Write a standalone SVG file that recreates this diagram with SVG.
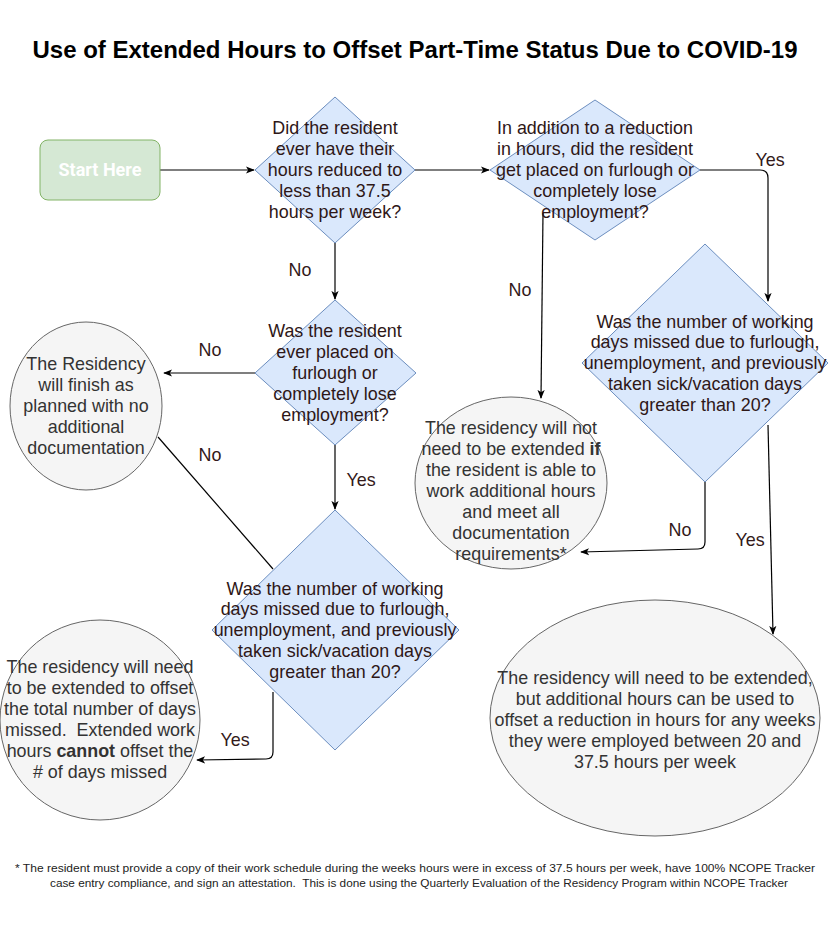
<svg xmlns="http://www.w3.org/2000/svg" width="831" height="931" viewBox="0 0 831 931">
<defs>
<style>
.t{font-family:"Liberation Sans",Arial,sans-serif;font-size:17.9px;text-anchor:middle;}
.dq{fill:#2e1717;}
.cc{fill:#333333;}
.lbl{font-family:"Liberation Sans",Arial,sans-serif;font-size:17.9px;fill:#331a1a;text-anchor:middle;}
.dia{fill:#dae8fc;stroke:#6c8ebf;stroke-width:1;}
.cir{fill:#f5f5f5;stroke:#666666;stroke-width:1;}
.ln{fill:none;stroke:#000;stroke-width:1.2;}
.b{font-weight:bold;}
</style>
<marker id="ah" viewBox="0 0 10 10" refX="9" refY="5" markerWidth="9" markerHeight="9" orient="auto" markerUnits="userSpaceOnUse">
<path d="M0,1 L10,5 L0,9 L2.5,5 Z" fill="#000"/>
</marker>
</defs>
<rect width="831" height="931" fill="#fff"/>
<text x="415" y="58" font-family="'Liberation Sans',Arial,sans-serif" font-size="24" font-weight="bold" text-anchor="middle" fill="#000">Use of Extended Hours to Offset Part-Time Status Due to COVID-19</text>

<g id="connectors">
<path class="ln" d="M160,170 L254,170" marker-end="url(#ah)"/>
<path class="ln" d="M415,170 L489,170" marker-end="url(#ah)"/>
<path class="ln" d="M700,170 L760,170 Q768,170 768,178 L768,301" marker-end="url(#ah)"/>
<path class="ln" d="M543,213 L541,398" marker-end="url(#ah)"/>
<path class="ln" d="M705,482 L705,542 Q705,549 698,549 L581,552" marker-end="url(#ah)"/>
<path class="ln" d="M768,425 L773,634" marker-end="url(#ah)"/>
<path class="ln" d="M335,243 L335,299" marker-end="url(#ah)"/>
<path class="ln" d="M255,373 L164,373" marker-end="url(#ah)"/>
<path class="ln" d="M158,437 L273,569"/>
<path class="ln" d="M335,445 L335,509" marker-end="url(#ah)"/>
<path class="ln" d="M273,692 L273,752 Q273,759 266,759 L197,760" marker-end="url(#ah)"/>
<text class="lbl" x="770" y="166">Yes</text>
<text class="lbl" x="520" y="296">No</text>
<text class="lbl" x="680" y="536">No</text>
<text class="lbl" x="750" y="546">Yes</text>
<text class="lbl" x="300" y="276">No</text>
<text class="lbl" x="210" y="356">No</text>
<text class="lbl" x="210" y="461">No</text>
<text class="lbl" x="361" y="486">Yes</text>
<text class="lbl" x="235" y="746">Yes</text>
</g>

<g id="start">
<rect x="40" y="140" width="120" height="60" rx="8" fill="#d5e8d4" stroke="#82b366"/>
<text x="100" y="176" font-family="Roboto,'Liberation Sans',sans-serif" font-size="18" font-weight="bold" fill="#fff" text-anchor="middle">Start Here</text>
</g>

<g id="q1">
<path class="dia" d="M335,97 L415,170 L335,243 L255,170 Z"/>
<text class="t dq" x="335"><tspan x="335" y="134">Did the resident</tspan><tspan x="335" y="155">ever have their</tspan><tspan x="335" y="176">hours reduced to</tspan><tspan x="335" y="197">less than 37.5</tspan><tspan x="335" y="218">hours per week?</tspan></text>
</g>

<g id="q2">
<path class="dia" d="M595,100 L700,170 L595,240 L490,170 Z"/>
<text class="t dq" x="595"><tspan x="595" y="134">In addition to a reduction</tspan><tspan x="595" y="155">in hours, did the resident</tspan><tspan x="595" y="176">get placed on furlough or</tspan><tspan x="595" y="197">completely lose</tspan><tspan x="595" y="218">employment?</tspan></text>
</g>

<g id="q4">
<path class="dia" d="M705,244 L828,363 L705,482 L582,363 Z"/>
<text class="t dq" x="705"><tspan x="705" y="328">Was the number of working</tspan><tspan x="705" y="348">days missed due to furlough,</tspan><tspan x="705" y="369">unemployment, and previously</tspan><tspan x="705" y="390">taken sick/vacation days</tspan><tspan x="705" y="411">greater than 20?</tspan></text>
</g>

<g id="r-noextend">
<ellipse class="cir" cx="511" cy="483" rx="96" ry="86"/>
<text class="t cc" x="511"><tspan x="511" y="434">The residency will not</tspan><tspan x="511" y="455">need to be extended <tspan class="b">if</tspan></tspan><tspan x="511" y="476">the resident is able to</tspan><tspan x="511" y="497">work additional hours</tspan><tspan x="511" y="518">and meet all</tspan><tspan x="511" y="539">documentation</tspan><tspan x="511" y="560">requirements*</tspan></text>
</g>

<g id="r-extend-hours">
<ellipse class="cir" cx="655" cy="718" rx="165" ry="118"/>
<text class="t cc" x="655"><tspan x="655" y="684">The residency will need to be extended,</tspan><tspan x="655" y="705">but additional hours can be used to</tspan><tspan x="655" y="726">offset a reduction in hours for any weeks</tspan><tspan x="655" y="747">they were employed between 20 and</tspan><tspan x="655" y="768">37.5 hours per week</tspan></text>
</g>

<g id="q3">
<path class="dia" d="M335,300 L416,373 L335,445 L255,373 Z"/>
<text class="t dq" x="335"><tspan x="335" y="337">Was the resident</tspan><tspan x="335" y="358">ever placed on</tspan><tspan x="335" y="379">furlough or</tspan><tspan x="335" y="400">completely lose</tspan><tspan x="335" y="421">employment?</tspan></text>
</g>

<g id="r-finish">
<ellipse class="cir" cx="86" cy="406" rx="76" ry="84"/>
<text class="t cc" x="86"><tspan x="86" y="370">The Residency</tspan><tspan x="86" y="391">will finish as</tspan><tspan x="86" y="412">planned with no</tspan><tspan x="86" y="433">additional</tspan><tspan x="86" y="454">documentation</tspan></text>
</g>

<g id="q5">
<path class="dia" d="M335,510 L459,630 L335,750 L212,630 Z"/>
<text class="t dq" x="335"><tspan x="335" y="595">Was the number of working</tspan><tspan x="335" y="615">days missed due to furlough,</tspan><tspan x="335" y="636">unemployment, and previously</tspan><tspan x="335" y="657">taken sick/vacation days</tspan><tspan x="335" y="678">greater than 20?</tspan></text>
</g>

<g id="r-extend-days">
<ellipse class="cir" cx="100" cy="720" rx="100" ry="100"/>
<text class="t cc" x="100"><tspan x="100" y="673">The residency will need</tspan><tspan x="100" y="694">to be extended to offset</tspan><tspan x="100" y="715">the total number of days</tspan><tspan x="100" y="736">missed.&#160; Extended work</tspan><tspan x="100" y="757">hours <tspan class="b">cannot</tspan> offset the</tspan><tspan x="100" y="778"># of days missed</tspan></text>
</g>

<g id="footnote">
<text x="415" y="872" font-family="'Liberation Sans',Arial,sans-serif" font-size="11" text-anchor="middle" fill="#222" textLength="800" lengthAdjust="spacingAndGlyphs">* The resident must provide a copy of their work schedule during the weeks hours were in excess of 37.5 hours per week, have 100% NCOPE Tracker</text>
<text x="419" y="887" font-family="'Liberation Sans',Arial,sans-serif" font-size="11" text-anchor="middle" fill="#222" textLength="738" lengthAdjust="spacingAndGlyphs">case entry compliance, and sign an attestation.&#160; This is done using the Quarterly Evaluation of the Residency Program within NCOPE Tracker</text>
</g>
</svg>
